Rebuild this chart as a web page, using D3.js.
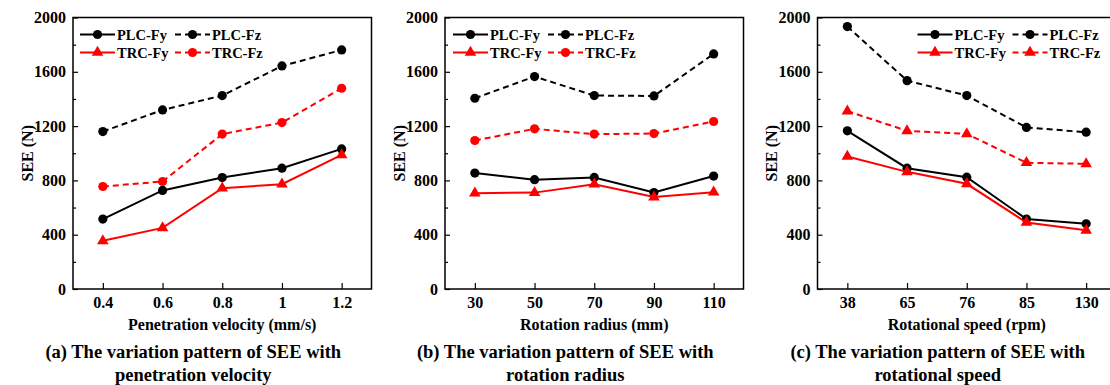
<!DOCTYPE html>
<html>

<head>
    <title>SEE variation patterns</title>
    <script src="https://d3js.org/d3.v7.min.js"></script>
    <style>
        body { margin: 0; background: #fff; }
        text { font-family: "Liberation Serif", "Times New Roman", serif; font-weight: bold; fill: #000; }
    </style>
</head>

<body>
    <svg id="chart"></svg>

    <script>
        // Datos
        var velocity = [0.4, 0.6, 0.8, 1, 1.2];
        var velocityLabels = ["0.4", "0.6", "0.8", "1", "1.2"];
        var velPLCFy = [515, 726, 821, 890, 1032];
        var velPLCFz = [1160, 1319, 1425, 1643, 1761];
        var velTRCFy = [355, 450, 743, 772, 988];
        var velTRCFz = [755, 792, 1141, 1226, 1479];

        var radius = [30, 50, 70, 90, 110];
        var radiusLabels = ["30", "50", "70", "90", "110"];
        var radPLCFy = [854, 805, 822, 711, 832];
        var radPLCFz = [1405, 1565, 1425, 1422, 1732];
        var radTRCFy = [706, 710, 772, 677, 713];
        var radTRCFz = [1094, 1180, 1141, 1145, 1234];

        var speedLabels = ["38", "65", "76", "85", "130"];
        var spdPLCFy = [1165, 890, 824, 515, 480];
        var spdPLCFz = [1933, 1535, 1425, 1190, 1155];
        var spdTRCFy = [976, 863, 775, 490, 432];
        var spdTRCFz = [1310, 1165, 1143, 930, 922];

        var yTicks = [0, 400, 800, 1200, 1600, 2000];
        var yMinor = [200, 600, 1000, 1400, 1800];

        // Dimensiones
        var W = 1110, H = 385;
        var plotTop = 17.5, plotH = 271.5, plotW = 298.5;

        var svg = d3.select("#chart")
            .attr("width", W)
            .attr("height", H);

        var y = d3.scaleLinear().domain([0, 2000]).range([plotH, 0]);

        var panels = [
            {
                left: 73,
                x: d3.scaleLinear().domain([0.3, 1.3]).range([0, plotW]),
                xs: velocity, xTickVals: velocity, xTickLabels: velocityLabels,
                series: [velPLCFy, velPLCFz, velTRCFy, velTRCFz],
                tzShape: "circle", legendX: 7,
                xTitle: "Penetration velocity (mm/s)",
                caption: ["(a) The variation pattern of SEE with", "penetration velocity"]
            },
            {
                left: 445,
                x: d3.scaleLinear().domain([20, 120]).range([0, plotW]),
                xs: radius, xTickVals: radius, xTickLabels: radiusLabels,
                series: [radPLCFy, radPLCFz, radTRCFy, radTRCFz],
                tzShape: "circle", legendX: 8,
                xTitle: "Rotation radius (mm)",
                caption: ["(b) The variation pattern of SEE with", "rotation radius"]
            },
            {
                left: 817.5,
                x: d3.scalePoint().domain(speedLabels).range([0, plotW]).padding(0.5),
                xs: speedLabels, xTickVals: speedLabels, xTickLabels: speedLabels,
                series: [spdPLCFy, spdPLCFz, spdTRCFy, spdTRCFz],
                tzShape: "triangle", legendX: 100,
                xTitle: "Rotational speed (rpm)",
                caption: ["(c) The variation pattern of SEE with", "rotational speed"]
            }
        ];

        var names = ["PLC-Fy", "PLC-Fz", "TRC-Fy", "TRC-Fz"];
        var colors = ["#000", "#000", "#ff0000", "#ff0000"];
        var dashes = [null, "6,4", null, "6,4"];

        function marker(g, shape, cx, cy, color) {
            if (shape === "circle") {
                g.append("circle").attr("cx", cx).attr("cy", cy).attr("r", 4.6).attr("fill", color);
            } else {
                g.append("path")
                    .attr("d", d3.symbol().type(d3.symbolTriangle).size(58)())
                    .attr("transform", "translate(" + cx + "," + cy + ")")
                    .attr("fill", color);
            }
        }

        panels.forEach(function(p) {
            var g = svg.append("g").attr("transform", "translate(" + p.left + "," + plotTop + ")");
            var x = p.x;
            var shapes = ["circle", "circle", "triangle", p.tzShape];

            // Ejes
            g.append("g")
                .call(d3.axisLeft(y).tickValues(yTicks).tickSize(-5).tickPadding(7).tickFormat(d3.format("d")));
            g.append("g")
                .call(d3.axisLeft(y).tickValues(yMinor).tickSize(-3).tickFormat(""));

            g.append("g")
                .attr("transform", "translate(0," + plotH + ")")
                .call(d3.axisBottom(x).tickValues(p.xTickVals).tickSize(-6).tickPadding(8)
                    .tickFormat(function(d, i) { return p.xTickLabels[i]; }));

            g.selectAll(".domain").remove();
            g.selectAll(".tick line").attr("stroke", "#000").attr("stroke-width", 1.2);
            g.selectAll(".tick text").style("font-size", "16px").attr("fill", "#000");

            g.append("rect")
                .attr("width", plotW).attr("height", plotH)
                .attr("fill", "none").attr("stroke", "#000").attr("stroke-width", 1.5);

            // Líneas y marcadores
            p.series.forEach(function(vals, k) {
                var pts = vals.map(function(v, i) { return [x(p.xs[i]), y(v)]; });
                g.append("path")
                    .attr("d", d3.line()(pts))
                    .attr("fill", "none")
                    .attr("stroke", colors[k])
                    .attr("stroke-width", 2)
                    .attr("stroke-dasharray", dashes[k]);
                pts.forEach(function(pt) { marker(g, shapes[k], pt[0], pt[1], colors[k]); });
            });

            // Leyenda
            names.forEach(function(n, k) {
                var lx = p.legendX + (k % 2) * 95;
                var ly = k < 2 ? 17 : 35;
                var lg = g.append("g");
                lg.append("line")
                    .attr("x1", lx).attr("x2", lx + 35).attr("y1", ly).attr("y2", ly)
                    .attr("stroke", colors[k]).attr("stroke-width", 2)
                    .attr("stroke-dasharray", dashes[k]);
                marker(lg, shapes[k], lx + 17.5, ly, colors[k]);
                lg.append("text")
                    .attr("x", lx + 37).attr("y", ly).attr("dy", "0.35em")
                    .style("font-size", "14.5px")
                    .text(n);
            });

            // Títulos
            g.append("text")
                .attr("transform", "translate(" + (-46) + "," + (plotH / 2) + ") rotate(-90)")
                .attr("text-anchor", "middle").attr("dy", "0.35em")
                .style("font-size", "16px")
                .text("SEE (N)");

            g.append("text")
                .attr("x", plotW / 2).attr("y", plotH + 41)
                .attr("text-anchor", "middle")
                .style("font-size", "16px")
                .text(p.xTitle);

            p.caption.forEach(function(c, i) {
                g.append("text")
                    .attr("x", plotW / 2 - 29).attr("y", plotH + 69 + i * 23)
                    .attr("text-anchor", "middle")
                    .style("font-size", "18.5px")
                    .text(c);
            });
        });
    </script>
</body>

</html>
